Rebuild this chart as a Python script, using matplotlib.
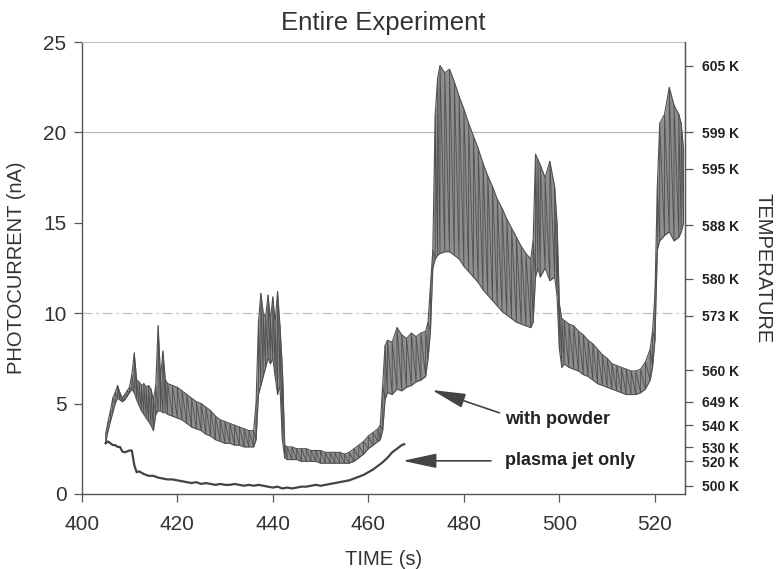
import numpy as np
import matplotlib
matplotlib.use("Agg")
import matplotlib.pyplot as plt

plt.rcParams['font.family'] = ['Liberation Sans', 'DejaVu Sans']

# ---- data: photocurrent with powder (envelope of the noisy trace) ----
powder_t = [405.0, 405.5, 406.0, 406.5, 407.0, 407.5, 408.0, 408.5, 409.0, 409.5,
            410.0, 410.5, 411.0, 411.5, 412.0, 412.5, 413.0, 413.5, 414.0, 414.5,
            415.0, 415.5, 416.0, 416.5, 417.0, 417.5, 418, 419, 420, 421,
            422, 423, 424, 425, 426, 427, 428, 429, 430, 431,
            432, 433, 434, 435, 436, 436.5, 437.0, 437.5, 438.0, 438.5,
            439.0, 439.5, 440.0, 440.5, 441.0, 441.5, 442.0, 442.5, 443, 444,
            445, 446, 447, 448, 449, 450, 451, 452, 453, 454,
            455, 456, 457, 458, 459, 460, 461, 462, 462.5, 463.0,
            463.5, 464, 465, 466, 467, 468, 469, 470, 471, 472,
            472.5, 473, 473.5, 474, 474.5, 475, 476, 477, 478, 479,
            480, 481, 482, 483, 484, 485, 486, 487, 488, 489,
            490, 491, 492, 493, 494, 494.5, 495, 495.5, 496, 497,
            498, 499, 499.5, 500, 500.5, 501, 502, 503, 504, 505,
            506, 507, 508, 509, 510, 511, 512, 513, 514, 515,
            516, 517, 518, 519, 519.5, 520, 520.5, 521, 522, 523,
            524, 525, 525.5, 526]
powder_lo = [2.8, 3.5, 4.0, 4.5, 5.0, 5.3, 5.2, 5.1, 5.2, 5.4,
             5.6, 5.8, 5.6, 5.2, 4.9, 4.6, 4.4, 4.2, 4.0, 3.8,
             3.5, 4.4, 4.6, 4.6, 4.5, 4.5, 4.4, 4.3, 4.2, 4.1,
             3.9, 3.7, 3.6, 3.5, 3.3, 3.2, 3.0, 2.9, 2.8, 2.8,
             2.7, 2.7, 2.6, 2.6, 2.6, 3.0, 5.5, 6.0, 6.5, 7.0,
             7.5, 7.2, 7.5, 6.5, 5.5, 6.0, 3.0, 2.0, 1.9, 1.9,
             1.9, 1.8, 1.8, 1.8, 1.8, 1.7, 1.7, 1.7, 1.7, 1.7,
             1.7, 1.7, 1.8, 2.0, 2.2, 2.5, 2.7, 2.9, 3.0, 3.5,
             5.2, 5.6, 5.5, 5.8, 5.7, 5.9, 6.0, 6.2, 6.3, 6.5,
             7.5, 9.0, 12.5, 13.0, 13.2, 13.3, 13.4, 13.4, 13.2, 13.0,
             12.6, 12.3, 12.0, 11.7, 11.3, 11.0, 10.7, 10.4, 10.1, 9.9,
             9.7, 9.5, 9.4, 9.3, 9.2, 9.5, 12.0, 12.5, 12.0, 12.5,
             11.8, 12.0, 11.0, 8.0, 7.0, 7.2, 7.0, 6.9, 6.8, 6.6,
             6.5, 6.3, 6.1, 6.0, 5.9, 5.8, 5.7, 5.6, 5.5, 5.5,
             5.5, 5.6, 5.8, 6.3, 7.0, 8.5, 13.5, 14.0, 14.3, 14.5,
             14.0, 14.2, 14.5, 15.0]
powder_hi = [3.3, 4.0, 4.6, 5.3, 5.6, 6.0, 5.6, 5.3, 5.5, 5.7,
             5.9, 6.6, 7.8, 6.3, 6.2, 6.0, 6.1, 5.9, 6.0, 5.8,
             5.2, 6.0, 9.3, 6.4, 7.9, 6.3, 6.1, 6.0, 5.9, 5.7,
             5.5, 5.3, 5.1, 5.0, 4.8, 4.6, 4.3, 4.1, 4.0, 3.9,
             3.8, 3.7, 3.6, 3.5, 3.5, 5.0, 9.5, 11.1, 10.0, 9.8,
             11.0, 9.6, 10.9, 9.5, 11.2, 9.3, 7.0, 2.7, 2.6, 2.6,
             2.5, 2.5, 2.5, 2.4, 2.4, 2.4, 2.3, 2.3, 2.3, 2.3,
             2.2, 2.3, 2.5, 2.7, 2.9, 3.2, 3.4, 3.6, 3.8, 6.0,
             8.2, 8.5, 8.4, 9.2, 8.8, 8.6, 8.9, 8.7, 8.9, 9.0,
             9.5, 11.5, 13.5, 21.0, 23.0, 23.7, 23.3, 23.5, 22.8, 22.0,
             21.3, 20.5, 19.8, 19.1, 18.3, 17.6, 17.0, 16.3, 15.8, 15.2,
             14.7, 14.2, 13.7, 13.3, 13.0, 14.0, 18.8, 18.5, 18.2, 17.5,
             18.4, 17.0, 15.0, 10.5, 9.7, 9.6, 9.4, 9.3, 9.0, 8.8,
             8.5, 8.3, 8.0, 7.7, 7.5, 7.2, 7.1, 7.0, 6.9, 6.8,
             6.8, 6.9, 7.3, 8.0, 9.0, 11.0, 17.0, 20.5, 21.0, 22.5,
             21.5, 21.0, 20.5, 19.0]

# ---- data: photocurrent, plasma jet only ----
plasma_t = [405.0, 405.5, 406.0, 406.5, 407.0, 407.5, 408.0, 408.5, 409.0, 409.5,
            410.0, 410.5, 411.0, 411.5, 412, 413, 414, 415, 416, 417,
            418, 419, 420, 421, 422, 423, 424, 425, 426, 427,
            428, 429, 430, 431, 432, 433, 434, 435, 436, 437,
            438, 439, 440, 441, 442, 443, 444, 445, 446, 447,
            448, 449, 450, 451, 452, 453, 454, 455, 456, 457,
            458, 459, 460, 461, 462, 463, 464, 465, 466, 467, 467.5]
plasma_v = [2.8, 2.9, 2.8, 2.7, 2.7, 2.6, 2.6, 2.35, 2.3, 2.35,
            2.4, 2.4, 1.6, 1.2, 1.25, 1.1, 1.0, 1.0, 0.9, 0.85,
            0.8, 0.8, 0.75, 0.7, 0.65, 0.6, 0.65, 0.55, 0.6, 0.55,
            0.5, 0.55, 0.5, 0.5, 0.55, 0.5, 0.45, 0.5, 0.45, 0.5,
            0.45, 0.4, 0.35, 0.4, 0.3, 0.35, 0.3, 0.35, 0.4, 0.4,
            0.45, 0.5, 0.45, 0.5, 0.55, 0.6, 0.65, 0.7, 0.75, 0.85,
            0.95, 1.05, 1.2, 1.35, 1.55, 1.75, 2.0, 2.3, 2.5, 2.7, 2.75]

# ---- axis texts ----
x_ticks = [400, 420, 440, 460, 480, 500, 520]
y_ticks = [0, 5, 10, 15, 20, 25]
temp_pos = [23.7, 20.0, 17.98, 14.86, 11.9, 9.85, 6.84, 5.09, 3.8, 2.58, 1.8, 0.45]
temp_labels = ["605 K", "599 K", "595 K", "588 K", "580 K", "573 K",
               "560 K", "649 K", "540 K", "530 K", "520 K", "500 K"]

txt = '#333333'
fig = plt.figure(figsize=(7.82, 5.69), dpi=100)
ax = fig.add_axes([0.1045, 0.132, 0.7715, 0.794])

# gridlines
ax.axhline(20, color='#b8b8b8', lw=0.9, zorder=0)
ax.axhline(10, color='#c0c0c0', lw=0.9, ls=(0, (8, 3, 2, 3)), zorder=0)

# powder trace: envelope + dense oscillation strokes
pt = np.array(powder_t)
plo = np.array(powder_lo)
phi = np.array(powder_hi)
ax.fill_between(pt, plo, phi, color='#8e8e8e', lw=0, zorder=2)
zz_t = np.repeat(pt, 2)
zz_v = np.column_stack([plo, phi]).ravel()
ax.plot(zz_t, zz_v, color='#4f4f4f', lw=0.6, zorder=3)
ax.plot(pt, phi, color='#505050', lw=0.8, zorder=3)
ax.plot(pt, plo, color='#505050', lw=0.8, zorder=3)

# plasma jet only
ax.plot(plasma_t, plasma_v, color='#444444', lw=1.6, zorder=3)

ax.set_xlim(400, 526.3)
ax.set_ylim(0, 25)
ax.set_xticks(x_ticks)
ax.set_yticks(y_ticks)
ax.tick_params(axis='both', direction='out', length=6, width=0.9, colors='#555555',
               labelcolor=txt, labelsize=15)
ax.tick_params(axis='x', pad=9)
ax.tick_params(axis='y', pad=5)
for s in ['left', 'bottom', 'right']:
    ax.spines[s].set_color('#555555')
    ax.spines[s].set_linewidth(1.0)
ax.spines['top'].set_color('#c4c4c4')
ax.spines['top'].set_linewidth(0.9)

ax.set_xlabel("TIME (s)", fontsize=14.5, color=txt, labelpad=12)
ax.set_ylabel("PHOTOCURRENT (nA)", fontsize=14.5, color=txt, labelpad=12)
ax.set_title("Entire Experiment", fontsize=18.5, color=txt, pad=9)

ax2 = ax.twinx()
ax2.set_ylim(ax.get_ylim())
ax2.set_yticks(temp_pos)
ax2.set_yticklabels(temp_labels)
ax2.tick_params(axis='y', direction='out', length=6, width=0.9, colors='#555555',
                labelcolor='#222222', labelsize=10, pad=6)
for lab in ax2.get_yticklabels():
    lab.set_fontweight('bold')
for s in ['left', 'bottom', 'top']:
    ax2.spines[s].set_visible(False)
ax2.spines['right'].set_color('#555555')
ax2.set_ylabel("TEMPERATURE", fontsize=14.5, color=txt, rotation=270, labelpad=24)

# annotations
arrow_kw = dict(arrowstyle='-|>,head_length=1.3,head_width=0.28',
                color='#444444', lw=1.2, mutation_scale=16, shrinkB=0)
ax.annotate("with powder", xy=(473.3, 5.75), xytext=(488.6, 4.1),
            fontsize=13, fontweight='bold', color='#222222', va='center', ha='left',
            arrowprops=dict(arrow_kw, relpos=(0.0, 0.8), shrinkA=2))
ax.annotate("plasma jet only", xy=(467.2, 1.83), xytext=(488.6, 1.83),
            fontsize=13, fontweight='bold', color='#222222', va='center', ha='left',
            arrowprops=dict(arrow_kw, relpos=(0.0, 0.5), shrinkA=8))

fig.savefig("out.png", dpi=100, facecolor='white')
